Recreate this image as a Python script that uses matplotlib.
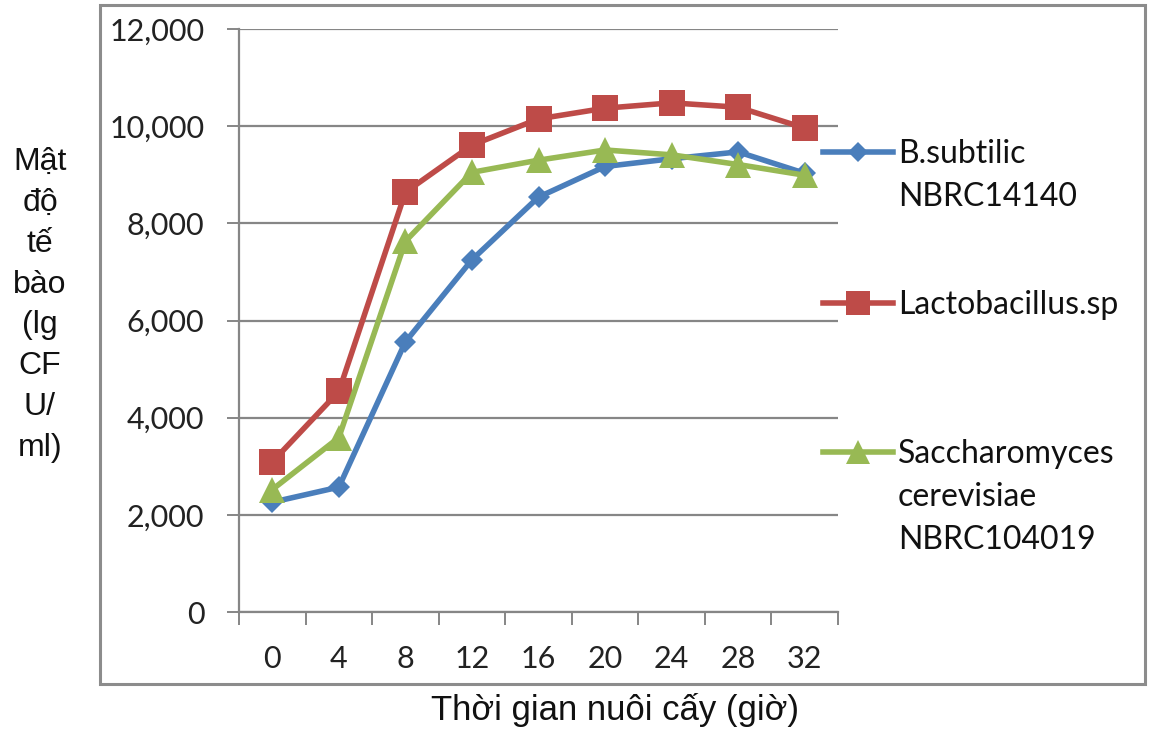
import matplotlib
matplotlib.use("Agg")
import matplotlib.pyplot as plt
from matplotlib.lines import Line2D
from matplotlib.patches import Rectangle
from matplotlib.ticker import FuncFormatter

# data
hours = ["0", "4", "8", "12", "16", "20", "24", "28", "32"]
bsub = [2260, 2570, 5560, 7250, 8540, 9170, 9330, 9470, 9030]
lacto = [3090, 4540, 8640, 9610, 10150, 10370, 10480, 10390, 9960]
sacch = [2520, 3590, 7630, 9050, 9300, 9510, 9410, 9210, 8990]

series_names = ["B.subtilic\nNBRC14140", "Lactobacillus.sp",
                "Saccharomyces\ncerevisiae\nNBRC104019"]
colors = ["#4A7EBB", "#BE4B48", "#98B954"]
markers = ["D", "s", "^"]
msizes = [11.5, 19, 19]

plt.rcParams['font.family'] = ['Liberation Sans', 'DejaVu Sans']
tick_font = ['Lato', 'DejaVu Sans']

W, H = 1152, 730
fig = plt.figure(figsize=(W / 100, H / 100), dpi=100)
ax = fig.add_axes([239 / W, 1 - 612 / H, (838 - 239) / W, (612 - 29) / H])

x = list(range(len(hours)))
for vals, c, m, ms in zip([bsub, lacto, sacch], colors, markers, msizes):
    ax.plot(x, vals, color=c, lw=4, marker=m, markersize=ms,
            markeredgewidth=0, zorder=3)

ax.set_xlim(-0.5, len(hours) - 0.5)
ax.set_ylim(0, 12000)
ax.set_yticks(range(0, 12001, 2000))
ax.yaxis.set_major_formatter(FuncFormatter(lambda v, p: f"{int(v):,}"))
ax.set_xticks(x)
ax.set_xticklabels(hours)
ax.set_xticks([i - 0.5 for i in range(len(hours) + 1)], minor=True)
ax.tick_params(axis='x', which='major', length=0, pad=24, labelsize=22,
               colors='#222222')
ax.tick_params(axis='x', which='minor', length=9, width=1.4, color='#868686',
               direction='out')
ax.tick_params(axis='y', length=9, width=1.4, color='#868686', pad=16,
               labelsize=22, labelcolor='#222222')
for lab in ax.get_xticklabels() + ax.get_yticklabels():
    lab.set_family(tick_font)

ax.grid(axis='y', color='#868686', lw=1.6)
ax.set_axisbelow(True)
for s in ['top', 'right']:
    ax.spines[s].set_visible(False)
for s in ['left', 'bottom']:
    ax.spines[s].set_color('#868686')
    ax.spines[s].set_linewidth(1.6)

# outer chart frame
fig.patches.append(Rectangle((100 / W, 1 - 684 / H), 1045 / W, 679 / H,
                             transform=fig.transFigure, fill=False,
                             edgecolor='#8c8c8c', lw=2.2))

# axis titles
fig.text(40 / W, 1 - 305 / H, "Mật\nđộ\ntế\nbào\n(lg\nCF\nU/\nml)",
         ha='center', va='center', fontsize=23, linespacing=1.47,
         color='#111111')
fig.text(615 / W, 1 - 710 / H, "Thời gian nuôi cấy (giờ)", ha='center',
         va='center', fontsize=25, color='#111111')

# legend, handle next to first line of each label
leg_y = [152, 303, 452]
for name, c, m, ms, y in zip(series_names, colors, markers, msizes, leg_y):
    yf = 1 - y / H
    fig.add_artist(Line2D([823 / W, 893 / W], [yf, yf], color=c, lw=4,
                          transform=fig.transFigure))
    fig.add_artist(Line2D([858 / W], [yf], color=c, marker=m,
                          markersize=ms * 0.9, markeredgewidth=0,
                          transform=fig.transFigure))
    fig.text(898 / W, yf + 13 / H, name, ha='left', va='top', fontsize=23,
             linespacing=1.55, family=tick_font, color='#111111')

fig.savefig("out.png", dpi=100)
